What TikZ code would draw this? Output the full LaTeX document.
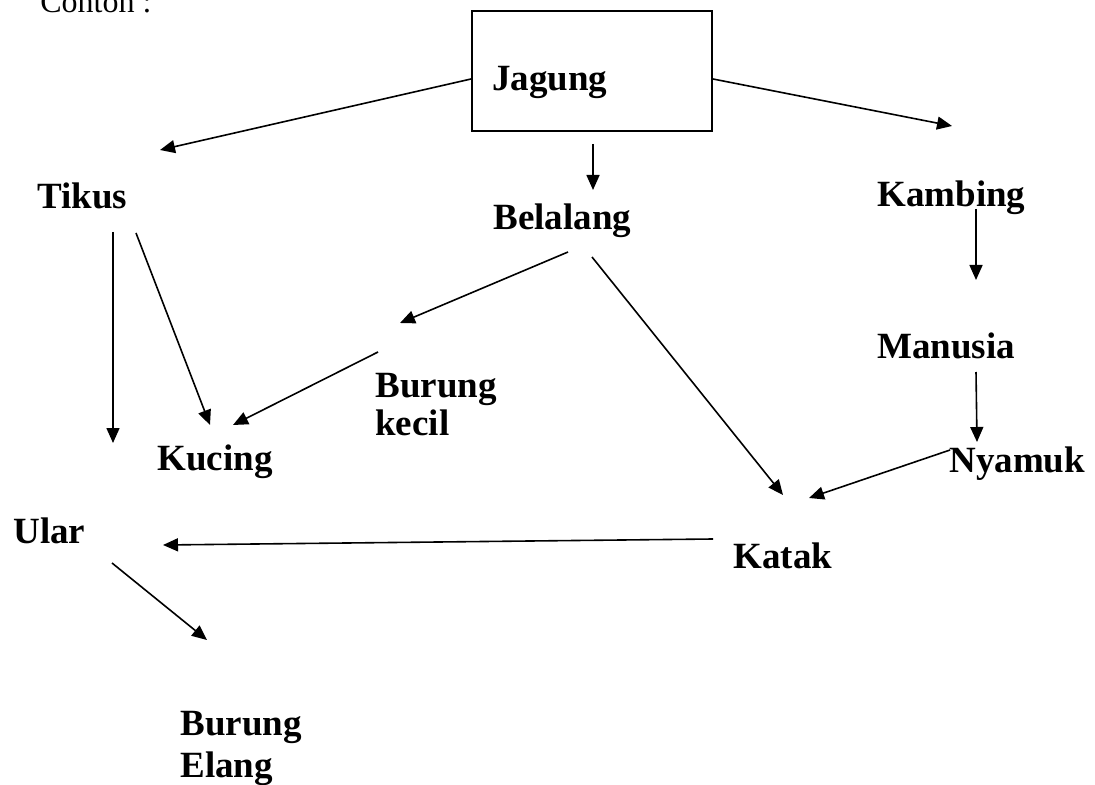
\documentclass[tikz,border=0pt]{standalone}
\usepackage{fontspec}
\setmainfont{Liberation Serif}
\usetikzlibrary{arrows.meta,calc}
\tikzset{
  nama/.style={anchor=base west, inner sep=0pt, align=left, font=\fontsize{18.5}{19}\selectfont\bfseries},
  kotak/.style={draw, line width=1pt, minimum width=120pt, minimum height=60pt, inner xsep=10pt, inner ysep=0pt,
                text width=100pt, align=left, text height=20pt, text depth=0pt, font=\fontsize{18.5}{19}\selectfont\bfseries},
  panah/.style={-{Triangle[length=7.5pt,width=6.5pt]}, line width=0.8pt},
}
\begin{document}
\begin{tikzpicture}[x=0.5pt,y=-0.5pt]
  \useasboundingbox (0,0) rectangle (1095,785);
  \node[anchor=base west, inner sep=0pt, font=\fontsize{16}{18}\selectfont] (contoh) at (40,13) {Contoh :};
  \node[kotak] (jagung) at (592,71) {Jagung};
  \node[nama] (tikus) at (37,209) {Tikus};
  \node[nama] (belalang) at (493,230) {Belalang};
  \node[nama] (kambing) at (877,207) {Kambing};
  \node[nama] (manusia) at (877,358) {Manusia};
  \node[nama] (burungkecil) at (375,435) {Burung\\kecil};
  \node[nama] (kucing) at (157,470) {Kucing};
  \node[nama] (nyamuk) at (949,472) {Nyamuk};
  \node[nama] (ular) at (13,543) {Ular};
  \node[nama] (katak) at (733,568) {Katak};
  \node[nama] (elang) at (180,777) {Burung\\[2pt]Elang};
  % dari jagung
  \draw[panah] ($(jagung.west)+(0,8)$) -- ($(tikus.base west)+(123,-59)$);
  \draw[panah] ($(jagung.east)+(0,8)$) -- ($(kambing.base west)+(75,-81)$);
  \draw[panah] ($(jagung.south)+(1,12)$) -- ($(belalang.base west)+(100,-40)$);
  % dari tikus
  \draw[panah] ($(tikus.base west)+(76,23)$) -- ($(ular.base west)+(100,-100)$);
  \draw[panah] ($(tikus.base west)+(99,24)$) -- ($(kucing.base west)+(53,-45)$);
  % dari belalang
  \draw[panah] ($(belalang.base west)+(75,22)$) -- ($(burungkecil.base west)+(25,-112)$);
  \draw[panah] ($(burungkecil.base west)+(3,-83)$) -- ($(kucing.base west)+(76,-45)$);
  \draw[panah] ($(belalang.base west)+(99,27)$) -- ($(katak.base west)+(50,-73)$);
  % kolom kanan
  \draw[panah] ($(kambing.base west)+(99,2)$) -- ($(manusia.base west)+(99,-78)$);
  \draw[panah] ($(manusia.base west)+(99,14)$) -- ($(nyamuk.base west)+(28,-30)$);
  \draw[panah] ($(nyamuk.base west)+(1,-22)$) -- ($(katak.base west)+(76,-70)$);
  % bawah
  \draw[panah] ($(katak.base west)+(-20,-29)$) -- ($(ular.base west)+(150,2)$);
  \draw[panah] ($(ular.base west)+(99,20)$) -- ($(elang.base west)+(27,-137)$);
\end{tikzpicture}
\end{document}
